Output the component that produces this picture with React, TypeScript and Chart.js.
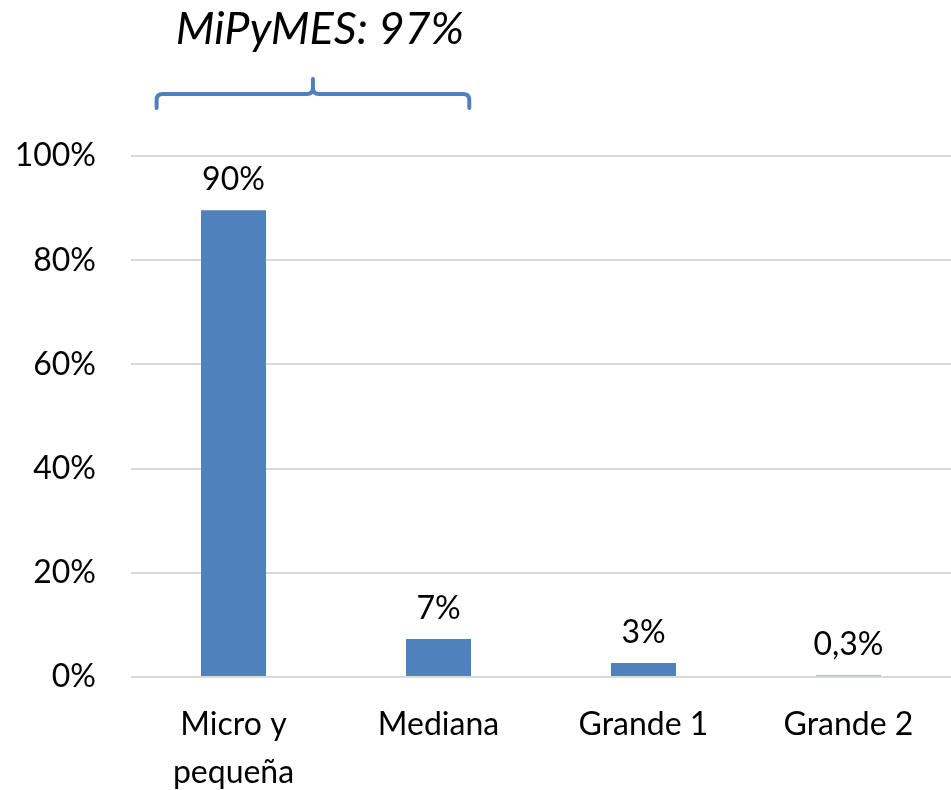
import React, { useEffect, useRef } from "react";
import { Chart, registerables } from "chart.js";

Chart.register(...registerables);

const categories: (string | string[])[] = [["Micro y", "pequeña"], "Mediana", "Grande 1", "Grande 2"];
const values = [89.6, 7.3, 2.7, 0.3];
const valueLabels = ["90%", "7%", "3%", "0,3%"];
const yTicks = [0, 20, 40, 60, 80, 100];
const bracketTitle = "MiPyMES: 97%";
const bracketRange = [0, 1];

const FONT = "Lato, 'Open Sans', sans-serif";
const BLUE = "#4f81bd";

const overlayPlugin = {
  id: "overlay",
  afterDatasetsDraw(chart: any) {
    const ctx = chart.ctx;
    const meta = chart.getDatasetMeta(0);
    ctx.save();
    ctx.fillStyle = "#000";
    ctx.font = `32px ${FONT}`;
    ctx.textAlign = "center";
    ctx.textBaseline = "alphabetic";
    meta.data.forEach((el: any, i: number) => {
      ctx.fillText(valueLabels[i], el.x, el.y - 20);
    });
    // bracket
    const xs = chart.scales.x;
    const cw = xs.getPixelForValue(1) - xs.getPixelForValue(0);
    const left = xs.getPixelForValue(bracketRange[0]) - 0.375 * cw;
    const right = xs.getPixelForValue(bracketRange[1]) + 0.15 * cw;
    const mid = (left + right) / 2;
    const yLine = 94;
    const r = 6;
    ctx.strokeStyle = BLUE;
    ctx.lineWidth = 4;
    ctx.lineCap = "round";
    ctx.lineJoin = "round";
    ctx.beginPath();
    ctx.moveTo(left, 108);
    ctx.lineTo(left, yLine + r);
    ctx.quadraticCurveTo(left, yLine, left + r, yLine);
    ctx.lineTo(mid - r, yLine);
    ctx.quadraticCurveTo(mid, yLine, mid, yLine - r);
    ctx.lineTo(mid, 79);
    ctx.moveTo(mid, yLine - r);
    ctx.quadraticCurveTo(mid, yLine, mid + r, yLine);
    ctx.lineTo(right - r, yLine);
    ctx.quadraticCurveTo(right, yLine, right, yLine + r);
    ctx.lineTo(right, 108);
    ctx.stroke();
    ctx.fillStyle = "#000";
    ctx.font = `italic 45px ${FONT}`;
    ctx.textAlign = "center";
    ctx.fillText(bracketTitle, mid + 7, 44);
    ctx.restore();
  },
};

export default function App() {
  const ref = useRef<HTMLCanvasElement>(null);
  useEffect(() => {
    const chart = new Chart(ref.current!, {
      type: "bar",
      data: {
        labels: categories as any,
        datasets: [
          {
            data: values,
            backgroundColor: BLUE,
            barPercentage: 0.317,
            categoryPercentage: 1,
          },
        ],
      },
      options: {
        animation: false,
        responsive: false,
        maintainAspectRatio: false,
        layout: { padding: { top: 156, right: 0, left: 0, bottom: 0 } },
        plugins: { legend: { display: false }, tooltip: { enabled: false } },
        scales: {
          x: {
            grid: { display: false },
            border: { display: false },
            ticks: {
              color: "#000",
              font: { family: FONT, size: 32, lineHeight: 1.5 },
              padding: 16,
              maxRotation: 0,
              autoSkip: false,
            },
            afterFit(scale: any) {
              scale.height = 113;
            },
          },
          y: {
            min: 0,
            max: 100,
            afterBuildTicks(scale: any) {
              scale.ticks = yTicks.map((v) => ({ value: v }));
            },
            grid: { color: "#d9d9d9", lineWidth: 2, drawTicks: false },
            border: { display: false },
            ticks: {
              color: "#000",
              font: { family: FONT, size: 32 },
              padding: 35,
              callback: (v: any) => `${v}%`,
            },
            afterFit(scale: any) {
              scale.width = 131;
            },
          },
        },
      },
      plugins: [overlayPlugin],
    });
    return () => chart.destroy();
  }, []);
  return (
    <div style={{ position: "fixed", left: 0, top: 0, width: 951, height: 790, background: "#fff" }}>
      <canvas ref={ref} width={951} height={790} />
    </div>
  );
}
